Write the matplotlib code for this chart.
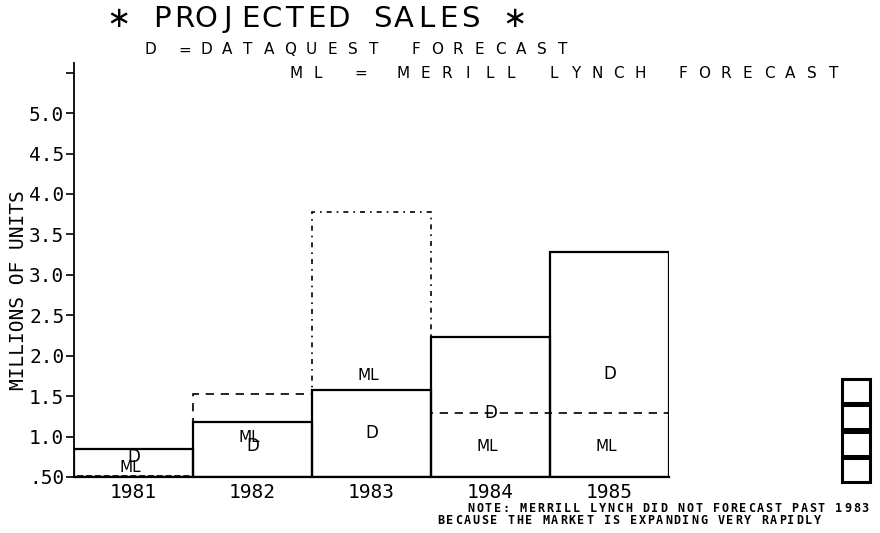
import matplotlib.pyplot as plt
from matplotlib.patches import Rectangle

years = ["1981", "1982", "1983", "1984", "1985"]
dataquest = [0.85, 1.18, 1.58, 2.23, 3.28]
merrill = [0.51, 1.53, 3.78, 1.29, 1.29]
ml_styles = ["--", (0, (5, 4)), (0, (3, 3, 1, 3)), (0, (5, 4)), (0, (5, 4))]

# where the little D / ML letters sit in each column
d_label_y = [0.75, 0.88, 1.04, 1.29, 1.77]
ml_label_y = [0.62, 0.99, 1.75, 0.88, 0.88]

yticks = [0.5, 1.0, 1.5, 2.0, 2.5, 3.0, 3.5, 4.0, 4.5, 5.0, 5.5]
ytick_labels = [".50", "1.0", "1.5", "2.0", "2.5", "3.0", "3.5", "4.0", "4.5", "5.0", ""]

W, H = 880, 533
fig = plt.figure(figsize=(W / 100, H / 100), dpi=100)
ax = fig.add_axes([74 / W, (H - 477) / H, 595 / W, 414 / H])

x = range(len(years))
ml_bars = ax.bar(x, [v - 0.5 for v in merrill], bottom=0.5, width=1.0,
                 fill=False, edgecolor="black", linewidth=1.2, zorder=2)
for bar, ls in zip(ml_bars, ml_styles):
    bar.set_linestyle(ls)
ax.bar(x, [v - 0.5 for v in dataquest], bottom=0.5, width=1.0,
       fill=False, edgecolor="black", linewidth=1.6, zorder=3)

for i in x:
    ax.text(i, d_label_y[i], "D", ha="center", va="center", fontsize=12, zorder=4)
    ax.text(i - 0.03, ml_label_y[i], "ML", ha="center", va="center", fontsize=11, zorder=4)

ax.set_xlim(-0.5, 4.5)
ax.set_ylim(0.5, 5.62)
ax.set_xticks(list(x))
ax.set_xticklabels(years, family="DejaVu Sans Mono", fontsize=14)
ax.set_yticks(yticks)
ax.set_yticklabels(ytick_labels, family="DejaVu Sans Mono", fontsize=14)
ax.tick_params(axis="x", length=0, pad=4)
ax.tick_params(axis="y", length=6, width=1.2, pad=1)
ax.spines["top"].set_visible(False)
ax.spines["right"].set_visible(False)
ax.spines["left"].set_linewidth(1.3)
ax.spines["bottom"].set_linewidth(1.6)

ax.set_ylabel("MILLIONS OF UNITS", family="DejaVu Sans Mono", fontsize=14)
ax.yaxis.set_label_coords(-0.078, (477 - 290) / 414)


def spaced(xc, y0, s, pitch, **kw):
    # plotter style lettering: one character centred every `pitch` pixels
    for k, ch in enumerate(s):
        fig.text((xc + k * pitch) / W, 1 - y0 / H, ch, ha="center", va="center", **kw)


spaced(118, 19, "\u2217 PROJECTED SALES \u2217", 22, fontsize=21)
spaced(150, 50, "D", 21, fontsize=11)
spaced(185, 50, "=DATAQUEST FORECAST", 21, fontsize=11)
spaced(296, 73, "ML = MERILL LYNCH FORECAST", 21.5, fontsize=11)

spaced(471, 509, "NOTE: MERRILL LYNCH DID NOT FORECAST PAST 1983", 8.76,
       fontsize=8.5, fontweight="bold", family="DejaVu Sans Mono")
spaced(441, 520, "BECAUSE THE MARKET IS EXPANDING VERY RAPIDLY", 8.75,
       fontsize=8.5, fontweight="bold", family="DejaVu Sans Mono")

for k in range(4):
    fig.add_artist(Rectangle((842 / W, 1 - (403 + k * 26.3) / H), 28 / W, 24 / H,
                             transform=fig.transFigure, fill=False,
                             edgecolor="black", linewidth=2.2))

fig.savefig("out.png", dpi=100)
